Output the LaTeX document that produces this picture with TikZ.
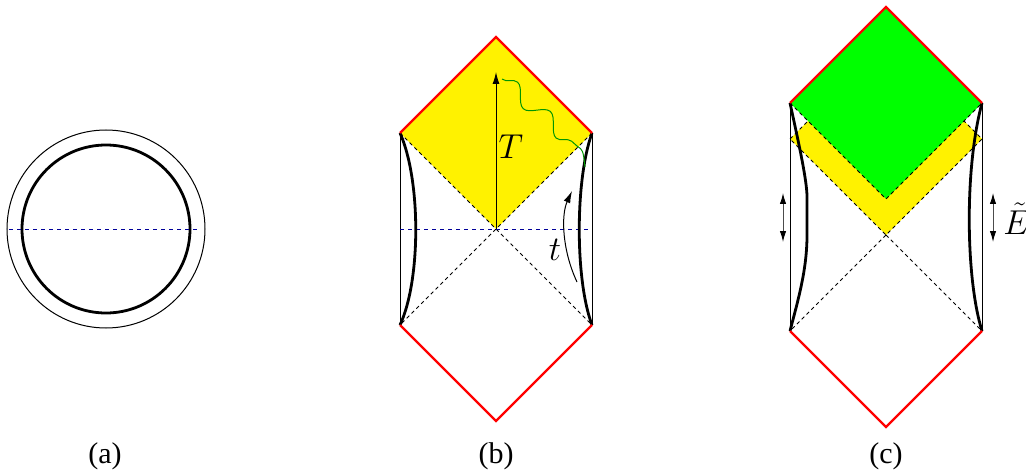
\documentclass[tikz,border=0pt]{standalone}
\usepackage{fontspec}
\setmainfont{Liberation Serif}
\usetikzlibrary{arrows.meta,decorations.pathmorphing}
\definecolor{wavegreen}{RGB}{0,150,0}
\begin{document}
\begin{tikzpicture}[x=0.5pt,y=-0.5pt,
    boundary/.style={red,line width=1.15pt},
    horizon/.style={black,line width=0.45pt,dash pattern=on 1.8pt off 1.6pt},
    slice/.style={blue!60!black,line width=0.45pt,dash pattern=on 2.2pt off 1.8pt},
    edge/.style={black,line width=0.5pt},
    wall/.style={black,line width=1.4pt},
    lbl/.style={font=\fontsize{17}{19}\selectfont},
    panellbl/.style={font=\fontsize{15}{17}\selectfont}]
    \useasboundingbox (0,0) rectangle (1026,470);

    % (a)
    \coordinate (aC) at (106,229);
    \draw[edge] (aC) circle[radius=99];
    \draw[wall] (aC) circle[radius=84];
    \draw[slice] (9,229) -- (200,229);
    \node[panellbl] (capa) at (105,456) {(a)};

    % (b)
    \coordinate (bT) at (496,37);
    \coordinate (bL) at (400,133);
    \coordinate (bR) at (592,133);
    \coordinate (bC) at (496,229);
    \coordinate (bBL) at (400,325);
    \coordinate (bBR) at (592,325);
    \coordinate (bB) at (496,421);
    \fill[yellow] (bL) -- (bT) -- (bR) -- (bC) -- cycle;
    \draw[edge] (bL) -- (bBL);
    \draw[edge] (bR) -- (bBR);
    \draw[horizon] (bL) -- (bBR);
    \draw[horizon] (bR) -- (bBL);
    \draw[slice] (400,229) -- (588,229);
    \draw[wall] (bL) .. controls (421,180) and (421,280) .. (bBL);
    \draw[wall] (bR) .. controls (575,180) and (575,280) .. (bBR);
    \draw[boundary] (bL) -- (bT) -- (bR);
    \draw[boundary] (bBL) -- (bB) -- (bBR);
    \coordinate (bTtip) at (496,72);
    \draw[edge,-{Latex[length=6pt,width=3.5pt]}] (bC) -- (bTtip);
    \node[lbl] (Tlbl) at (511,147) {$T$};
    \coordinate (wS) at (502,79);
    \coordinate (wE) at (577,146);
    \coordinate (wF) at (585,167);
    \draw[wavegreen,line width=0.5pt,decorate,
        decoration={snake,segment length=22pt,amplitude=4pt}] (wS) -- (wE);
    \draw[wavegreen,line width=0.5pt] (wE) .. controls (583,150) .. (wF);
    \coordinate (tS) at (577,282);
    \coordinate (tE) at (572,191);
    \draw[edge,-{Latex[length=6pt,width=3.5pt]}] (tS) .. controls (562,250) and (561,215) .. (tE);
    \node[lbl] (tlbl) at (555,250) {$t$};
    \node[panellbl] (capb) at (496,456) {(b)};

    % (c)
    \coordinate (cT) at (886,7);
    \coordinate (cL) at (790,103);
    \coordinate (cR) at (982,103);
    \coordinate (cG) at (886,199);
    \coordinate (yT) at (886,43);
    \coordinate (yL) at (790,139);
    \coordinate (yR) at (982,139);
    \coordinate (yB) at (886,235);
    \coordinate (cBL) at (790,331);
    \coordinate (cBR) at (982,331);
    \coordinate (cB) at (886,427);
    \fill[yellow] (yL) -- (yT) -- (yR) -- (yB) -- cycle;
    \draw[horizon] (yL) -- (yT) -- (yR) -- (yB) -- cycle;
    \fill[green] (cL) -- (cT) -- (cR) -- (cG) -- cycle;
    \draw[horizon] (cL) -- (cG) -- (cR);
    \draw[horizon] (yB) -- (cBL);
    \draw[horizon] (yB) -- (cBR);
    \draw[edge] (cL) -- (cBL);
    \draw[edge] (cR) -- (cBR);
    \draw[wall] (cL) .. controls (798,140) and (807,180) .. (807,197)
        -- (807,235) .. controls (807,270) and (798,300) .. (cBL);
    \draw[wall] (cR) .. controls (964,170) and (966,280) .. (cBR);
    \draw[boundary] (cL) -- (cT) -- (cR);
    \draw[boundary] (cBL) -- (cB) -- (cBR);
    \coordinate (eLt) at (783,193);
    \coordinate (eLb) at (783,242);
    \coordinate (eRt) at (993,193);
    \coordinate (eRb) at (993,242);
    \draw[black!70,line width=0.5pt,{Latex[length=5.5pt,width=3.2pt,black]}-{Latex[length=5.5pt,width=3.2pt,black]}] (eLt) -- (eLb);
    \draw[black!70,line width=0.5pt,{Latex[length=5.5pt,width=3.2pt,black]}-{Latex[length=5.5pt,width=3.2pt,black]}] (eRt) -- (eRb);
    \node[lbl,anchor=west,inner sep=0pt] (Elbl) at (1003,219) {$\tilde{E}$};
    \node[panellbl] (capc) at (886,456) {(c)};
\end{tikzpicture}
\end{document}
